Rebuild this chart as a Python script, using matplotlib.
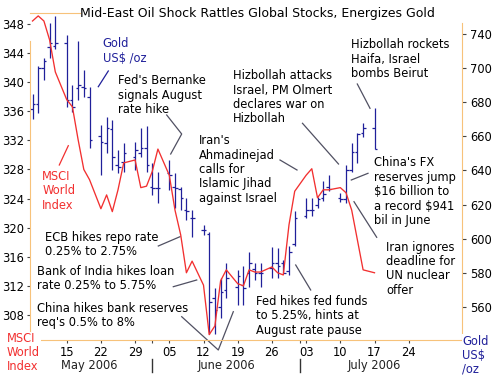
import pandas as pd
import matplotlib
matplotlib.use('Agg')
import matplotlib.pyplot as plt
from matplotlib.lines import Line2D
from matplotlib.transforms import blended_transform_factory

# trading days shown on the chart
dates = ['2006-05-08', '2006-05-09', '2006-05-10', '2006-05-11', '2006-05-12',
         '2006-05-15', '2006-05-16', '2006-05-17', '2006-05-18', '2006-05-19',
         '2006-05-22', '2006-05-23', '2006-05-24', '2006-05-25', '2006-05-26',
         '2006-05-29', '2006-05-30', '2006-05-31', '2006-06-01', '2006-06-02',
         '2006-06-05', '2006-06-06', '2006-06-07', '2006-06-08', '2006-06-09',
         '2006-06-12', '2006-06-13', '2006-06-14', '2006-06-15', '2006-06-16',
         '2006-06-19', '2006-06-20', '2006-06-21', '2006-06-22', '2006-06-23',
         '2006-06-26', '2006-06-27', '2006-06-28', '2006-06-29', '2006-06-30',
         '2006-07-03', '2006-07-04', '2006-07-05', '2006-07-06', '2006-07-07',
         '2006-07-10', '2006-07-11', '2006-07-12', '2006-07-13', '2006-07-14',
         '2006-07-17']

# MSCI World Index (left axis)
msci = [348.4, 349.1, 348.4, 345.8, 341.4,
        337.6, 336.6, 332.1, 328.0, 326.6,
        322.6, 324.5, 322.2, 325.2, 328.9,
        329.3, 325.5, 325.7, 327.7, 330.8,
        327.2, 322.4, 319.0, 313.8, 315.4,
        312.1, 305.3, 306.5, 312.7, 314.2,
        312.3, 312.0, 314.2, 313.9, 313.9,
        314.6, 313.8, 313.5, 320.4, 325.0,
        327.2, 328.1, 324.1, 325.2, 325.2,
        325.5, 324.8, 322.4, 318.3, 314.2,
        313.8]

# Gold US$/oz OHLC (right axis)
g_open = [676, 679, 700, 712, 713,
          714.5, 681, 688, 689, 683,
          660, 656, 664, 643, 645,
          648, 650, 653, 630, 629.6,
          638.4, 630, 629, 616.8, 612,
          605, 603, 565, 560, 570,
          572, 573, 580, 582, 580,
          583, 586, 586, 581, 597,
          613, 617, 620, 624, 630,
          624, 623, 640, 651, 662,
          665]
g_high = [684.7, 701, 706, 726, 730.4,
          719, 690, 716, 698.7, 688.8,
          666.5, 671, 669.5, 652, 656,
          656.6, 664.8, 666, 644.3, 639,
          646, 638.4, 630.2, 623.8, 616.8,
          608, 604, 571, 577, 585.7,
          581.6, 584, 592, 586, 585.7,
          595, 594.5, 587.5, 596, 616,
          624, 624, 624.5, 634, 637,
          627, 643, 656, 661.8, 667.7,
          676.5]
g_low = [670, 673.6, 693, 706, 711,
         677, 674, 681, 683, 653,
         637.3, 650, 640, 638.4, 639,
         640.2, 647.8, 639, 625.5, 620.9,
         628.5, 618, 616.8, 610.9, 601,
         602, 544, 544, 553.5, 565.2,
         561, 561, 572, 575.8, 572,
         577, 577, 580, 578.7, 596,
         612, 613, 618, 622, 628,
         621.5, 621, 639, 644.3, 659.5,
         652.5]
g_close = [679, 700, 704, 714.5, 714.5,
           681, 677, 690, 688, 658,
           656.6, 665, 648, 642, 650,
           652, 653, 643, 629.6, 629.6,
           637.3, 629.6, 624, 616, 612,
           605, 563, 558, 569, 577,
           578, 571, 586, 580, 580,
           586, 584, 580, 592, 612,
           617, 617, 623, 626, 629,
           623, 640, 651, 661, 665,
           652.5]

tick_dates = pd.date_range('2006-05-15', '2006-07-24', freq='7D')
tick_labels = [d.strftime('%d') for d in tick_dates]
month_starts = ['2006-06-01', '2006-07-01']
month_names = ['May 2006', 'June 2006', 'July 2006']
month_label_dates = ['2006-05-19', '2006-06-16', '2006-07-17']
msci_ticks = list(range(308, 349, 4))
gold_ticks = [560, 580, 600, 620, 640, 660, 680, 700, 720]
gold_labels = ['560', '580', '600', '620', '640', '660', '680', '700', '740']

base = pd.Timestamp('2006-05-15')


def slot(d):
    # six slots a week: Mon-Fri plus one for the weekend
    d = pd.Timestamp(d)
    week = (d - base).days // 7
    return 6 * week + min(d.weekday(), 5)


x = [slot(d) for d in dates]

W, H = 494, 377
plt.rcParams['font.family'] = 'DejaVu Sans'
fig = plt.figure(figsize=(W / 100, H / 100), dpi=100)
ax = fig.add_axes([30 / W, 1 - 340 / H, 432 / W, 327 / H])
ax2 = ax.twinx()
ax.set_zorder(2)
ax2.set_zorder(1)
ax.patch.set_visible(False)

red = '#f23030'
navy = '#20209a'
orange = '#f7c27a'
grey = '#505062'
fs = 8.3

# gold OHLC bars
for xi, o, hi, lo, c in zip(x, g_open, g_high, g_low, g_close):
    ax2.vlines(xi, lo, hi, color=navy, lw=0.9)
    ax2.hlines(o, xi - 0.45, xi, color=navy, lw=0.9)
    ax2.hlines(c, xi, xi + 0.45, color=navy, lw=0.9)

ax.plot(x, msci, color=red, lw=0.95)

xmin, xmax = -6.44, 69.35
ax.set_xlim(xmin, xmax)
ax.set_ylim(304.56, 349.5)
ax2.set_ylim(540.7, 732.1)

ax.set_xticks([slot(d) for d in tick_dates])
ax.set_xticklabels(tick_labels)
ax.set_xticks([slot(d) for d in month_starts], minor=True)
ax.set_yticks(msci_ticks)
ax2.set_yticks(gold_ticks)
ax2.set_yticklabels(gold_labels)

ax.tick_params(axis='x', which='both', length=2.5, width=0.8, color='#444444', pad=2, labelsize=fs)
ax.tick_params(axis='y', length=2.5, width=0.8, color='#444444', pad=1.5, labelsize=fs)
ax2.tick_params(axis='y', length=3, width=0.8, color='#444444', pad=3, labelsize=fs)

for s in ['top', 'right']:
    ax.spines[s].set_visible(False)
for s in ['top', 'left', 'bottom']:
    ax2.spines[s].set_visible(False)
ax.spines['left'].set_color(orange)
ax.spines['left'].set_bounds(304.56, 345.7)
ax.spines['bottom'].set_color(orange)
ax2.spines['right'].set_color(orange)
ax2.spines['right'].set_bounds(540.7, 726)
ax.spines['top'].set_visible(True)
ax.spines['top'].set_color(orange)
ax.spines['top'].set_bounds(xmin, slot('2006-05-17') + 0.3)

# month labels and dividers under the axis
bt = blended_transform_factory(ax.transData, fig.transFigure)
for d in month_starts:
    xs = slot(d)
    ax.add_line(Line2D([xs, xs], [1 - 359 / H, 1 - 372 / H], transform=bt,
                       color='#333333', lw=1, clip_on=False))
for d, name in zip(month_label_dates, month_names):
    fig.text(slot(d), 1 - 365 / H, name, transform=bt, ha='center', va='center',
             fontsize=fs, color='#222222')


def P(px, py):
    return px / W, 1 - py / H


fig.text(*P(257, 14), 'Mid-East Oil Shock Rattles Global Stocks, Energizes Gold',
         ha='center', va='center', fontsize=9.0)

notes = [
    ("Fed's Bernanke\nsignals August\nrate hike", 118.3, 81, [(166.7, 115), (181.7, 134), (170.7, 154)]),
    ("Iran's\nAhmadinejad\ncalls for\nIslamic Jihad\nagainst Israel", 199, 141, [(280, 160), (297, 170)]),
    ("Hizbollah attacks\nIsrael, PM Olmert\ndeclares war on\nHizbollah", 233, 76, [(302.5, 123.3), (338.5, 164)]),
    ("Hizbollah rockets\nHaifa, Israel\nbombs Beirut", 351.3, 45, [(357.3, 84), (370, 108.3)]),
    ("China's FX\nreserves jump\n$16 billion to\na record $941\nbil in June", 374, 163.3,
     [(351.3, 180), (368, 173.3)]),
    ("Iran ignores\ndeadline for\nUN nuclear\noffer", 386.3, 247.3, [(354, 201.7), (376.7, 237.3)]),
    ("ECB hikes repo rate\n0.25% to 2.75%", 45, 237.3, [(158.3, 246), (180, 236.7)]),
    ("Bank of India hikes loan\nrate 0.25% to 5.75%", 37.3, 271.7, [(173.3, 286.7), (196.7, 280)]),
    ("China hikes bank reserves\nreq's 0.5% to 8%", 37.3, 308.3,
     [(181.7, 316.7), (218.3, 350), (233.3, 311.7)]),
    ("Fed hikes fed funds\nto 5.25%, hints at\nAugust rate pause", 255.7, 301.7, [(295.7, 265), (310.7, 290)]),
]

for text, tx, ty, pts in notes:
    fig.text(*P(tx, ty - 6.8), text, ha='left', va='top', fontsize=fs, linespacing=1.14)
    fx, fy = zip(*[P(a, b) for a, b in pts])
    fig.add_artist(Line2D(fx, fy, color=grey, lw=0.9))

# series labels
fig.text(*P(102.7, 44 - 6.8), 'Gold\nUS$ /oz', ha='left', va='top', fontsize=fs, color=navy, linespacing=1.14)
fx, fy = zip(*[P(108.3, 71), P(98.3, 86.7)])
fig.add_artist(Line2D(fx, fy, color=navy, lw=0.9))
fig.text(*P(42.3, 176.7 - 6.8), 'MSCI\nWorld\nIndex', ha='left', va='top', fontsize=fs, color=red, linespacing=1.14)
fx, fy = zip(*[P(59.3, 165), P(68.3, 145.7)])
fig.add_artist(Line2D(fx, fy, color=red, lw=0.9))
fig.text(*P(7, 339.3 - 6.8), 'MSCI\nWorld\nIndex', ha='left', va='top', fontsize=fs, color=red,
         linespacing=1.1, bbox=dict(facecolor='white', edgecolor='none', pad=0.5), zorder=5)
fig.text(*P(462.3, 341.7 - 6.8), 'Gold\nUS$\n/oz', ha='left', va='top', fontsize=fs, color=navy,
         linespacing=1.1, bbox=dict(facecolor='white', edgecolor='none', pad=0.5), zorder=5)

fig.savefig('out.png', dpi=100)
